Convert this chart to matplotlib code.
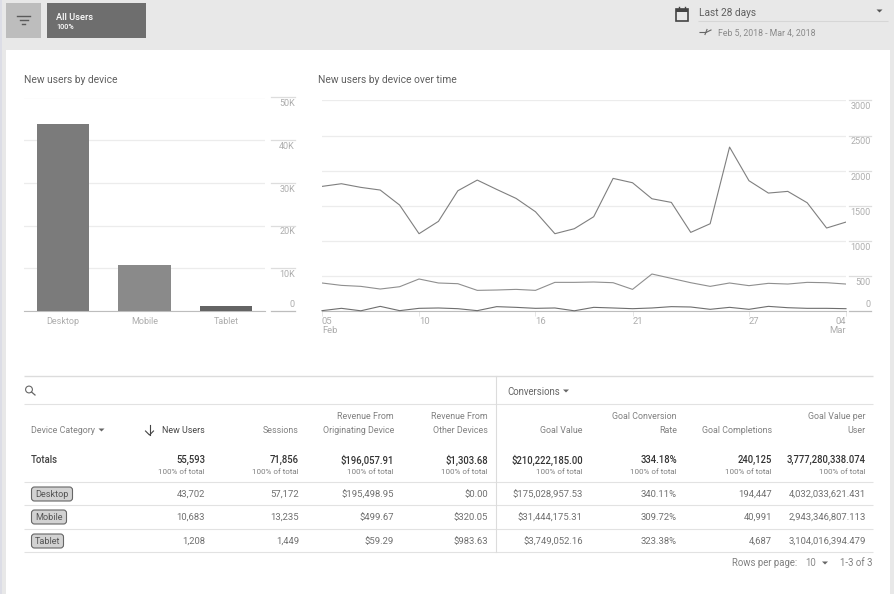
import matplotlib
matplotlib.use('Agg')
import matplotlib.pyplot as plt
from matplotlib.patches import Rectangle, FancyBboxPatch, Circle, Polygon
from matplotlib.transforms import ScaledTranslation

plt.rcParams['font.family'] = ['Roboto', 'DejaVu Sans']

W, H = 894, 594

# ---- data ----
devices = ['Desktop', 'Mobile', 'Tablet']
new_users = [43702, 10683, 1208]
bar_colors = ['#7b7b7b', '#8a8a8a', '#646464']
bar_ticks = [0, 10000, 20000, 30000, 40000, 50000]
bar_tick_labels = ['0', '10K', '20K', '30K', '40K', '50K']

desktop_daily = [1775, 1813, 1761, 1723, 1509, 1101, 1277, 1713, 1865, 1732, 1604, 1414, 1101, 1172,
                 1343, 1889, 1827, 1599, 1547, 1120, 1243, 2335, 1856, 1680, 1704, 1542, 1182, 1267]
mobile_daily = [399, 365, 351, 313, 346, 456, 399, 389, 294, 299, 308, 294, 408, 408,
                413, 403, 308, 527, 465, 403, 351, 399, 361, 394, 384, 408, 403, 384]
tablet_daily = [5, 38, 3, 66, 5, 38, 43, 33, 5, 62, 52, 38, 43, 3,
                52, 43, 33, 43, 62, 57, 24, 52, 24, 66, 47, 38, 38, 33]
line_ticks = [0, 500, 1000, 1500, 2000, 2500, 3000]
date_tick_pos = [0, 5, 11, 16, 22, 27]
date_tick_labels = ['05\nFeb', '10', '16', '21', '27', '04\nMar']

columns = [['New Users'], ['Sessions'], ['Revenue From', 'Originating Device'],
           ['Revenue From', 'Other Devices'], ['Goal Value'], ['Goal Conversion', 'Rate'],
           ['Goal Completions'], ['Goal Value per', 'User']]
totals = ['55,593', '71,856', '$196,057.91', '$1,303.68', '$210,222,185.00', '334.18%', '240,125',
          '3,777,280,338.074']
desktop_row = ['43,702', '57,172', '$195,498.95', '$0.00', '$175,028,957.53', '340.11%', '194,447',
               '4,032,033,621.431']
mobile_row = ['10,683', '13,235', '$499.67', '$320.05', '$31,444,175.31', '309.72%', '40,991',
              '2,943,346,807.113']
tablet_row = ['1,208', '1,449', '$59.29', '$983.63', '$3,749,052.16', '323.38%', '4,687',
              '3,104,016,394.479']

col_right = [205, 299, 394, 488, 583, 677, 772, 866]
GRID = '#ececec'
BASE = '#bdbdbd'
TICK = '#adadad'


def axes_px(x0, y0, x1, y1):
    # y0 is the top edge, in image pixels
    return fig.add_axes([x0 / W, 1 - y1 / H, (x1 - x0) / W, (y1 - y0) / H])


fig = plt.figure(figsize=(W / 100, H / 100), dpi=100, facecolor='#e8e8e8')

# ---- page furniture, drawn in pixel coordinates ----
bg = fig.add_axes([0, 0, 1, 1], zorder=0)
bg.set_xlim(0, W)
bg.set_ylim(H, 0)
bg.axis('off')


def txt(x, y, s, size=7.0, color='#666666', ha='left', weight='normal'):
    bg.text(x, y + 0.6, s, fontsize=size, color=color, ha=ha, va='center', fontweight=weight)


def hline(y, x0=24, x1=873, color='#e2e2e2', lw=0.8):
    bg.plot([x0, x1], [y, y], color=color, lw=lw, solid_capstyle='butt')


def caret(x, y, color='#666666'):
    bg.add_patch(Polygon([(x - 3, y - 1.5), (x + 3, y - 1.5), (x, y + 1.5)], color=color, lw=0))


bg.add_patch(Rectangle((0, 0), 2, H, color='#dcdde6', lw=0))
bg.add_patch(Rectangle((6, 50), 883.5, H - 50, color='white', lw=0))

# filter button
bg.add_patch(Rectangle((6, 3), 35, 35, color='#bdbdbd', lw=0))
bg.plot([17, 30], [16, 16], color='#5a5a5a', lw=1)
bg.plot([19.5, 27.5], [20, 20], color='#5a5a5a', lw=1)
bg.plot([22, 25], [24, 24], color='#5a5a5a', lw=1)

# segment chip
bg.add_patch(Rectangle((47, 3), 99, 35, color='#6e6e6e', lw=0))
txt(56, 16.5, 'All Users', size=6.7, color='white', weight='medium')
txt(56, 26, '100%', size=5.2, color='white', weight='medium')

# date range
bg.add_patch(Rectangle((675.5, 9), 12.5, 12, fc='none', ec='#444444', lw=1.2))
bg.add_patch(Rectangle((675.5, 9), 12.5, 3, color='#444444', lw=0))
bg.plot([678.5, 678.5], [7, 9], color='#444444', lw=1)
bg.plot([685, 685], [7, 9], color='#444444', lw=1)
txt(699, 12, 'Last 28 days', size=7.3, color='#5f5f5f')
caret(879.5, 11, color='#555555')
hline(21, 698, 888, color='#d6d6d6')
bg.plot([700, 706, 711], [32.5, 32.5, 30], color='#666666', lw=0.8)
bg.plot([705, 707], [34.5, 29.5], color='#666666', lw=0.8)
txt(717.5, 32.5, 'Feb 5, 2018 - Mar 4, 2018', size=6.3, color='#8a8a8a')

# chart titles
txt(23.5, 79, 'New users by device', size=7.4, color='#5f5f5f')
txt(318.5, 79, 'New users by device over time', size=7.4, color='#5f5f5f')

# ---- bar chart ----
ax1 = axes_px(24, 97.5, 265, 311)
ax1.patch.set_alpha(0)
ax1.set_zorder(2)
ax1.bar(range(len(devices)), new_users, width=0.644, color=bar_colors, zorder=3)
ax1.set_xlim(-0.4785, 2.479)
ax1.set_ylim(0, 50000)
ax1.set_xticks(range(len(devices)), devices)
ax1.tick_params(axis='x', length=0, pad=4, labelsize=6.5, labelcolor=TICK)
ax1.yaxis.tick_right()
ax1.set_yticks(bar_ticks, bar_tick_labels)
ax1.tick_params(axis='y', length=0, pad=21.6, labelsize=6.5, labelcolor=TICK)

# ---- line chart ----
ax2 = axes_px(322, 100.4, 846, 311)
ax2.patch.set_alpha(0)
ax2.set_zorder(2)
ax2.plot(desktop_daily, color='#7f7f7f', lw=0.8, zorder=3)
ax2.plot(mobile_daily, color='#8f8f8f', lw=0.8, zorder=3)
ax2.plot(tablet_daily, color='#6e6e6e', lw=0.8, zorder=3, clip_on=False)
ax2.set_xlim(0, 27)
ax2.set_ylim(0, 3000)
ax2.set_xticks(date_tick_pos, date_tick_labels)
ax2.tick_params(axis='x', length=3.5, width=0.6, color='#e2e2e2', pad=0.8, labelsize=6.8, labelcolor=TICK)
ax2.yaxis.tick_right()
ax2.set_yticks(line_ticks, [str(v) for v in line_ticks])
ax2.tick_params(axis='y', length=0, pad=18, labelsize=6.5, labelcolor=TICK)

label_shift = ScaledTranslation(0, -0.019, fig.dpi_scale_trans)
for ax, seg in ((ax1, (1.025, 1.125)), (ax2, (1.006, 1.048))):
    ax.grid(axis='y', color=GRID, lw=0.9, zorder=0)
    ax.set_axisbelow(True)
    for name in ('top', 'left', 'right'):
        ax.spines[name].set_visible(False)
    ax.spines['bottom'].set_color(BASE)
    ax.spines['bottom'].set_linewidth(0.8)
    trans = ax.get_yaxis_transform()
    for i, v in enumerate(ax.get_yticks()):
        ax.plot(seg, [v, v], transform=trans, clip_on=False, lw=0.9,
                color=BASE if v == 0 else '#dddddd')
    labels = ax.get_yticklabels()
    for lab in labels:
        lab.set_ha('right')
    # the zero label sits above its line, all the others below
    labels[0].set_va('bottom')
    labels[0].set_transform(labels[0].get_transform() + ScaledTranslation(0, 0.02, fig.dpi_scale_trans))
    for lab in labels[1:]:
        lab.set_va('top')
        lab.set_transform(lab.get_transform() + label_shift)

for lab in ax2.get_xticklabels():
    lab.set_ha('left')
    lab.set_linespacing(0.95)
ax2.get_xticklabels()[-1].set_ha('right')

# ---- table ----
hline(376, color='#dcdcdc', lw=1.0)
hline(404)
for y in (482, 505, 529, 552):
    hline(y)
bg.plot([495.5, 495.5], [376, 552], color='#dcdcdc', lw=0.8)

# search icon
bg.add_patch(Circle((29, 389.5), 3.4, fc='none', ec='#666666', lw=0.8))
bg.plot([31.5, 35], [392, 395], color='#666666', lw=0.9)

txt(507.5, 391, 'Conversions', size=6.9)
caret(566, 391)

txt(31, 430, 'Device Category', size=6.4, color='#808080')
caret(101.5, 430)
bg.plot([149.5, 149.5], [425, 435], color='#444444', lw=0.8)
bg.plot([145.5, 149.5, 153.5], [431, 435, 431], color='#444444', lw=0.8)

for i, (right, head) in enumerate(zip(col_right, columns)):
    head_color = '#444444' if i == 0 else '#808080'
    if len(head) == 2:
        txt(right, 416, head[0], size=6.4, color=head_color, ha='right')
    txt(right, 430, head[-1], size=6.4, color=head_color, ha='right')
    txt(right, 459.5, totals[i], size=6.85, color='#333333', ha='right', weight='medium')
    txt(right, 471.5, '100% of total', size=5.75, color='#808080', ha='right')

txt(31, 459.5, 'Totals', size=6.9, color='#444444', weight='medium')

chip_widths = [42, 36, 33]
row_y = [494, 517, 541]
rows = [desktop_row, mobile_row, tablet_row]
for name, chip_w, y, row in zip(devices, chip_widths, row_y, rows):
    bg.add_patch(FancyBboxPatch((31.5, y - 7), chip_w - 1, 14, boxstyle='round,pad=0,rounding_size=3',
                                fc='#d2d2d2', ec='#666666', lw=0.8))
    txt(31.5 + (chip_w - 1) / 2, y, name, size=6.6, color='#555555', ha='center')
    for right, val in zip(col_right, row):
        txt(right, y, val, size=6.8, color='#707070', ha='right')

# pagination
txt(732, 562, 'Rows per page:', size=6.9, color='#808080')
txt(805, 562.5, '10', size=6.9, color='#8a8a8a')
caret(825, 563)
txt(873, 562, '1-3 of 3', size=6.9, color='#808080', ha='right')

fig.savefig('out.png', dpi=100, facecolor=fig.get_facecolor())
